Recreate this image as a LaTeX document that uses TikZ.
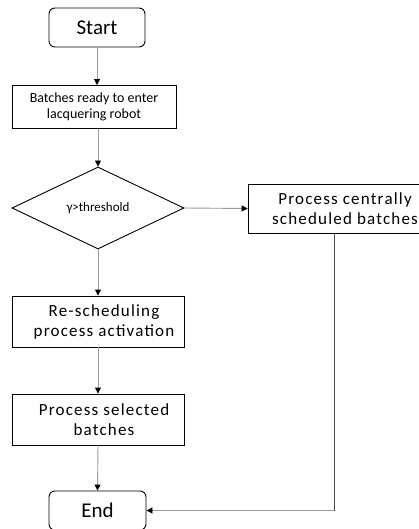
\documentclass[tikz,border=0pt]{standalone}
\usepackage{fontspec}
\setmainfont{Carlito}
\newfontfamily\spaced[LetterSpace=7]{Carlito}
\usetikzlibrary{shapes.geometric,arrows.meta}
\definecolor{conn}{HTML}{9A9A9A}
\definecolor{connd}{HTML}{505050}
\tikzset{
  box/.style={draw=black,line width=0.9pt,inner sep=0pt},
  term/.style={box,rounded corners=6pt,font=\fontsize{21}{24}\selectfont},
  lbl/.style={align=center,inner sep=0pt},
  arr/.style={draw=conn,line width=0.9pt,-{Triangle[length=6pt,width=6pt,color=black]}},
}
\begin{document}
\begin{tikzpicture}[x=1pt,y=-1pt]
\useasboundingbox (0,0) rectangle (419,529);
\node[term,minimum width=96pt,minimum height=39pt] (start) at (97,27.5) {Start};
\node[box,minimum width=164pt,minimum height=43pt,lbl,font=\fontsize{14}{16}\selectfont] (batch) at (94,107) {Batches ready to enter\\lacquering robot};
\node[box,diamond,minimum width=172pt,minimum height=82pt,font=\fontsize{13}{15}\selectfont] (dec) at (98,208) {γ>threshold};
\node[box,minimum width=193pt,minimum height=49pt] (central) at (344.5,208.5) {};
\node[lbl,font=\fontsize{17}{20}\selectfont\spaced] (centralt) at (345,208.5) {Process centrally\\scheduled batches};
\node[box,minimum width=172pt,minimum height=51pt] (resched) at (98,321.5) {};
\node[lbl,font=\fontsize{17}{20}\selectfont\spaced] (reschedt) at (104,321.5) {Re-scheduling\\process activation};
\node[box,minimum width=172pt,minimum height=51pt] (sel) at (98,419.5) {};
\node[lbl,font=\fontsize{17}{20}\selectfont\spaced] (selt) at (104,419.5) {Process selected\\batches};
\node[term,minimum width=97pt,minimum height=39pt] (end) at (97.5,510.5) {End};
\coordinate (cdown) at (334,233);
\coordinate (corner) at (334,510.5);
\draw[arr] (start.south) -- (start.south |- batch.north);
\draw[arr] (batch.south -| dec.north) -- (dec.north);
\draw[arr] (dec.east) -- (central.west);
\draw[arr] (dec.south) -- (resched.north);
\draw[arr] (resched.south) -- (sel.north);
\draw[arr] (sel.south) -- (end.north);
\draw[draw=connd,line width=0.9pt] (cdown) -- (corner);
\draw[arr] (corner) -- (end.east);
\end{tikzpicture}
\end{document}
